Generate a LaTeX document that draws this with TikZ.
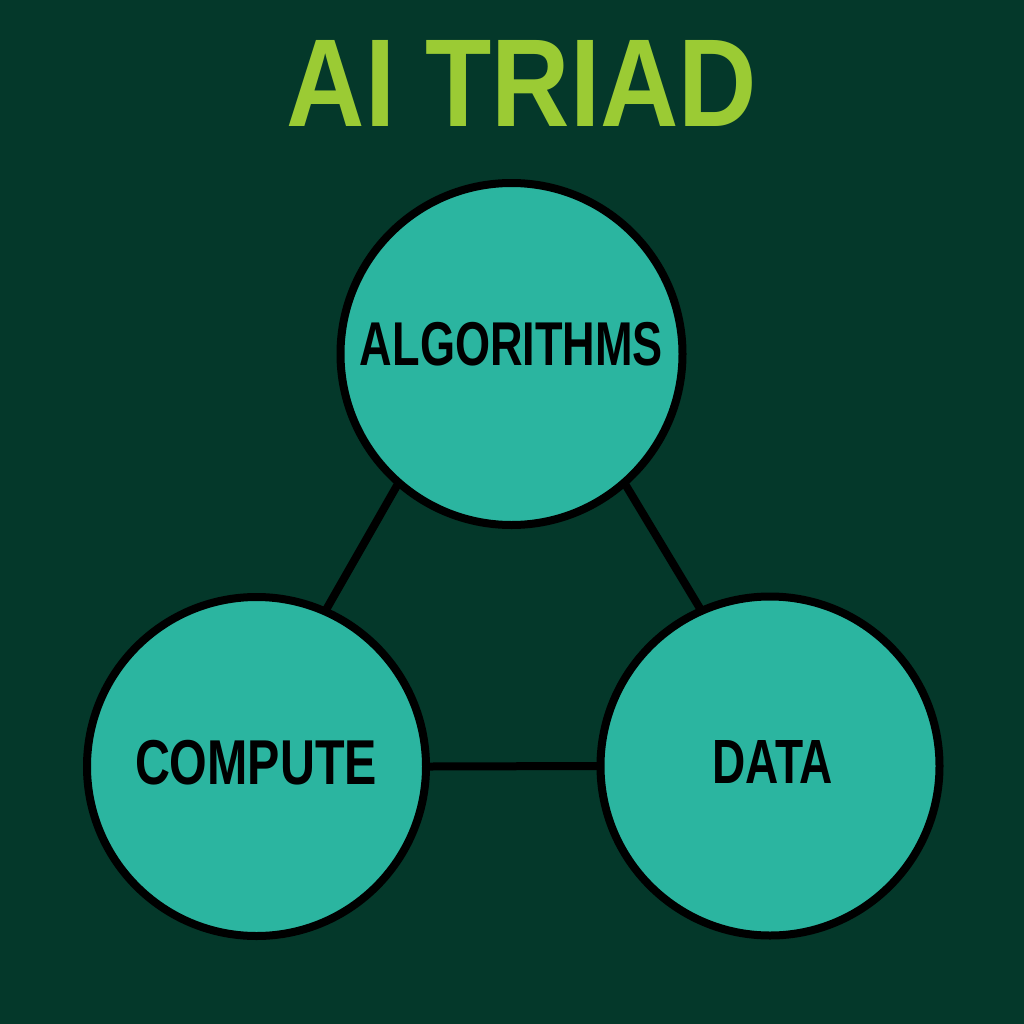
\documentclass[tikz,border=0pt]{standalone}
\usepackage{fontspec}
\setmainfont{Liberation Sans}
\usepackage{graphicx}
\pgfdeclarelayer{bg}\pgfdeclarelayer{lines}\pgfsetlayers{bg,lines,main}
\definecolor{bgc}{HTML}{04382A}
\definecolor{triadfill}{HTML}{2BB5A0}
\definecolor{titlegreen}{HTML}{9BCB34}
\begin{document}
\begin{tikzpicture}[x=0.75pt,y=-0.75pt,
  disc/.style={circle, draw=black, line width=6pt, fill=triadfill, inner sep=0pt},
  link/.style={line width=6pt, draw=black, shorten <=-6pt, shorten >=-6pt},
  lbl/.style={inner sep=0pt, text=black, font=\bfseries},
  ttl/.style={inner sep=0pt, text=titlegreen, font=\bfseries}]
\begin{pgfonlayer}{bg}
\fill[bgc] (0,0) rectangle (1024,1024);
\end{pgfonlayer}
\useasboundingbox (0,0) rectangle (1024,1024);

\node[ttl] (title) at (522,83) {\resizebox{352.5pt}{64.5pt}{AI TRIAD}};

\node[disc, minimum size=256.5pt] (alg) at (511.5,354) {};
\node[disc, minimum size=254.25pt] (comp) at (256.5,766.5) {};
\node[disc, minimum size=254.25pt] (data) at (770,766) {};

\node[lbl] (algtxt) at (511.5,344) {\resizebox{227.25pt}{32.4pt}{ALGORITHMS}};
\node[lbl] (comptxt) at (256,762.5) {\resizebox{181.5pt}{33.2pt}{COMPUTE}};
\node[lbl] (datatxt) at (772.5,761.5) {\resizebox{90.75pt}{32.25pt}{DATA}};

\begin{pgfonlayer}{lines}
\draw[link] (alg.229.5) -- (comp.66.4);
\draw[link] (alg.311) -- (data.114.5);
\draw[link] (comp.east) -- (data.west);
\end{pgfonlayer}
\end{tikzpicture}
\end{document}
